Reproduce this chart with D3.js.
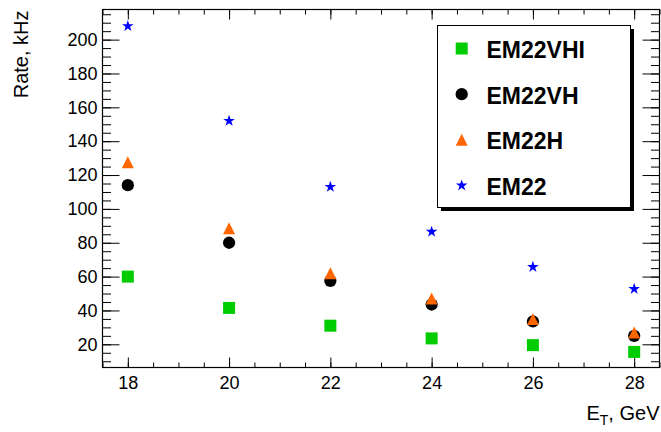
<!DOCTYPE html>
<html>
<head>
<meta charset="utf-8">
<script src="https://cdn.jsdelivr.net/npm/d3@7"></script>
<style>
  body { margin: 0; background: #fff; }
  svg { display: block; font-family: "Liberation Sans", Arial, Helvetica, sans-serif; }
</style>
</head>
<body>
<div id="chart"></div>
<script>
// DATA
const energies = [18, 20, 22, 24, 26, 28];
const em22vhi = [60, 41.5, 31, 23.5, 19.5, 15.5];
const em22vh = [114, 80, 57.5, 43.5, 33.5, 25];
const em22h = [127.5, 88.5, 62, 47, 35, 27];
const em22 = [208, 152, 113, 86.5, 65.7, 52.7];
const seriesNames = ["EM22VHI", "EM22VH", "EM22H", "EM22"];
const xTicks = [18, 20, 22, 24, 26, 28];
const yTicks = [20, 40, 60, 80, 100, 120, 140, 160, 180, 200];

const W = 661, H = 432;
const frame = { left: 102.5, right: 659.5, top: 9.5, bottom: 367.5 };

// ROOT style triangle, box centered
const triangle = {
  draw(ctx, size) {
    const s = Math.sqrt(size) / 2;
    ctx.moveTo(0, -s);
    ctx.lineTo(s, s);
    ctx.lineTo(-s, s);
    ctx.closePath();
  }
};

const styles = [
  { type: d3.symbolSquare, size: 144, color: "#00cc00" },
  { type: d3.symbolCircle, size: 118, color: "#000000" },
  { type: triangle, size: 144, color: "#ff6600" },
  { type: d3.symbolStar, size: 42, color: "#0000ff" }
];
const allSeries = [em22vhi, em22vh, em22h, em22];

const svg = d3.select("#chart").append("svg")
  .attr("width", W)
  .attr("height", H);

const x = d3.scaleLinear().domain([17.5, 28.5]).range([frame.left, frame.right]);
const y = d3.scaleLinear().domain([6.3, 217.8]).range([frame.bottom, frame.top]);

const minorX = d3.range(17.5, 28.51, 0.5);
const minorY = d3.range(10, 217.8, 5);

function styleAxis(g) {
  g.select(".domain").remove();
  g.selectAll("line").attr("stroke", "#000");
  g.selectAll("text").attr("fill", "#000").style("font-size", "18px");
}

// bottom axis
svg.append("g")
  .attr("transform", `translate(0,${frame.bottom})`)
  .call(d3.axisBottom(x).tickValues(minorX).tickSize(-5).tickFormat(""))
  .call(styleAxis);
svg.append("g")
  .attr("transform", `translate(0,${frame.bottom})`)
  .call(d3.axisBottom(x).tickValues(xTicks).tickSize(-10).tickPadding(9).tickFormat(d3.format("d")))
  .call(styleAxis);

// top axis (ticks only)
svg.append("g")
  .attr("transform", `translate(0,${frame.top})`)
  .call(d3.axisTop(x).tickValues(minorX).tickSize(-5).tickFormat(""))
  .call(styleAxis);
svg.append("g")
  .attr("transform", `translate(0,${frame.top})`)
  .call(d3.axisTop(x).tickValues(xTicks).tickSize(-10).tickFormat(""))
  .call(styleAxis);

// left axis
svg.append("g")
  .attr("transform", `translate(${frame.left},0)`)
  .call(d3.axisLeft(y).tickValues(minorY).tickSize(-8.5).tickFormat(""))
  .call(styleAxis);
svg.append("g")
  .attr("transform", `translate(${frame.left},0)`)
  .call(d3.axisLeft(y).tickValues(yTicks).tickSize(-17).tickPadding(5).tickFormat(d3.format("d")))
  .call(styleAxis);

// right axis (ticks only)
svg.append("g")
  .attr("transform", `translate(${frame.right},0)`)
  .call(d3.axisRight(y).tickValues(minorY).tickSize(-8.5).tickFormat(""))
  .call(styleAxis);
svg.append("g")
  .attr("transform", `translate(${frame.right},0)`)
  .call(d3.axisRight(y).tickValues(yTicks).tickSize(-17).tickFormat(""))
  .call(styleAxis);

// frame
svg.append("rect")
  .attr("x", frame.left).attr("y", frame.top)
  .attr("width", frame.right - frame.left)
  .attr("height", frame.bottom - frame.top)
  .attr("fill", "none").attr("stroke", "#000").attr("stroke-width", 1.2);

// axis titles
svg.append("text")
  .attr("transform", `translate(28,${frame.top + 1}) rotate(-90)`)
  .attr("text-anchor", "end")
  .style("font-size", "20px")
  .text("Rate, kHz");

const xt = svg.append("text")
  .attr("x", frame.right)
  .attr("y", 420)
  .attr("text-anchor", "end")
  .style("font-size", "20px");
xt.append("tspan").text("E");
xt.append("tspan").attr("dy", 5).style("font-size", "14px").text("T");
xt.append("tspan").attr("dy", -5).text(", GeV");

// markers
allSeries.forEach((vals, i) => {
  const st = styles[i];
  svg.append("g")
    .selectAll("path")
    .data(vals.map((v, j) => ({ e: energies[j], v: v })))
    .join("path")
    .attr("transform", d => `translate(${x(d.e)},${y(d.v)})`)
    .attr("d", d3.symbol().type(st.type).size(st.size))
    .attr("fill", st.color);
});

// legend
const lg = { x: 437.5, y: 25.5, w: 193, h: 182, shadow: 3.5 };
svg.append("rect")
  .attr("x", lg.x + lg.shadow).attr("y", lg.y + lg.shadow)
  .attr("width", lg.w).attr("height", lg.h)
  .attr("fill", "#000");
svg.append("rect")
  .attr("x", lg.x).attr("y", lg.y)
  .attr("width", lg.w).attr("height", lg.h)
  .attr("fill", "#fff").attr("stroke", "#000").attr("stroke-width", 1);

const rowY = d3.scalePoint().domain(seriesNames).range([48.5, 185.5]);
seriesNames.forEach((name, i) => {
  const st = styles[i];
  svg.append("path")
    .attr("transform", `translate(461.7,${rowY(name)})`)
    .attr("d", d3.symbol().type(st.type).size(st.size))
    .attr("fill", st.color);
  svg.append("text")
    .attr("x", 486.5)
    .attr("y", rowY(name) + 9.5)
    .style("font-size", "23px")
    .style("font-weight", "bold")
    .text(name);
});
</script>
</body>
</html>
